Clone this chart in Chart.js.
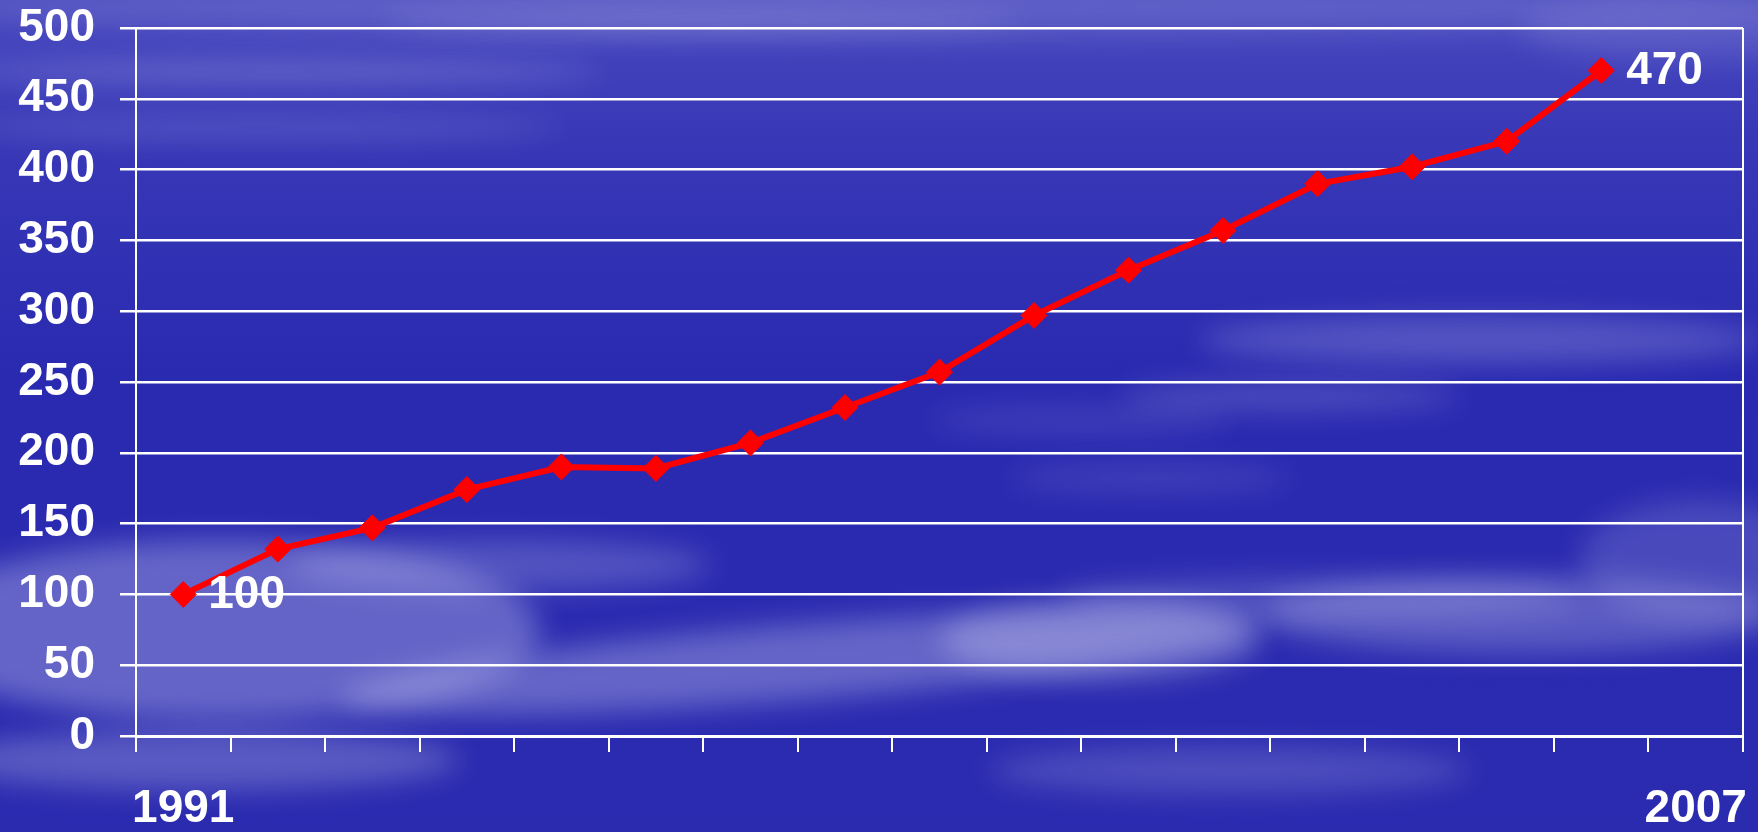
<!DOCTYPE html>
<html>
<head>
<meta charset="utf-8">
<script src="https://cdn.jsdelivr.net/npm/chart.js@4.4.1/dist/chart.umd.min.js"></script>
<style>
  html, body { margin: 0; padding: 0; background: #2b2bb1; }
  #wrap { width: 1758px; height: 832px; position: relative; }
</style>
</head>
<body>
<div id="wrap"><canvas id="c" width="1758" height="832"></canvas></div>
<script>
// Years on the category axis
const years = ['1991','1992','1993','1994','1995','1996','1997','1998','1999',
               '2000','2001','2002','2003','2004','2005','2006','2007'];
// Index values (1991 = 100)
const indexValues = [100, 132, 147, 174, 190, 189, 207, 232, 257,
                     297, 329, 357, 390, 402, 420, 470, null];
// Value axis ticks
const yTickValues = [0, 50, 100, 150, 200, 250, 300, 350, 400, 450, 500];
// Years printed under the axis
const shownYears = ['1991', '2007'];
// Points whose value is written beside them
const labelledPoints = [0, 15];

const FONT = "'Liberation Sans', Arial, sans-serif";

// Soft cloud streaks painted over the blue sky backdrop
const clouds = [
  { x: 880,  y: 8,   rx: 950, ry: 28, a: 0.16, r: 0 },
  { x: 700,  y: 22,  rx: 320, ry: 10, a: 0.22, r: 0 },
  { x: 280,  y: 72,  rx: 320, ry: 12, a: 0.24, r: 0 },
  { x: 260,  y: 128, rx: 300, ry: 11, a: 0.18, r: 0 },
  { x: 1690, y: 30,  rx: 170, ry: 30, a: 0.14, r: 0 },
  { x: 1480, y: 340, rx: 280, ry: 24, a: 0.24, r: 0 },
  { x: 1290, y: 396, rx: 170, ry: 15, a: 0.20, r: 0 },
  { x: 1080, y: 420, rx: 150, ry: 11, a: 0.15, r: 0 },
  { x: 1150, y: 478, rx: 140, ry: 12, a: 0.15, r: 0 },
  { x: 500,  y: 565, rx: 210, ry: 26, a: 0.24, r: 0 },
  { x: 220,  y: 630, rx: 320, ry: 90, a: 0.34, r: 0 },
  { x: 800,  y: 662, rx: 460, ry: 38, a: 0.34, r: -0.08 },
  { x: 1100, y: 640, rx: 160, ry: 40, a: 0.30, r: 0 },
  { x: 1320, y: 598, rx: 260, ry: 20, a: 0.22, r: 0 },
  { x: 1520, y: 615, rx: 260, ry: 38, a: 0.28, r: 0 },
  { x: 200,  y: 760, rx: 260, ry: 30, a: 0.28, r: 0 },
  { x: 1230, y: 770, rx: 240, ry: 24, a: 0.20, r: 0 },
  { x: 1700, y: 560, rx: 120, ry: 60, a: 0.18, r: 0 }
];

const skyPlugin = {
  id: 'sky',
  beforeDraw(chart) {
    const { ctx, width, height } = chart;
    ctx.save();
    const g = ctx.createLinearGradient(0, 0, 0, height);
    g.addColorStop(0, '#4848bf');
    g.addColorStop(0.18, '#3737b7');
    g.addColorStop(0.45, '#2a2ab1');
    g.addColorStop(1, '#2b2bb0');
    ctx.fillStyle = g;
    ctx.fillRect(0, 0, width, height);
    ctx.filter = 'blur(14px)';
    clouds.forEach(c => {
      ctx.beginPath();
      ctx.ellipse(c.x, c.y, c.rx, c.ry, c.r, 0, Math.PI * 2);
      ctx.fillStyle = 'rgba(215,215,245,' + c.a + ')';
      ctx.fill();
    });
    ctx.restore();
  }
};

// Right-hand border of the plot
const framePlugin = {
  id: 'frame',
  beforeDatasetsDraw(chart) {
    const { ctx, chartArea } = chart;
    ctx.save();
    ctx.strokeStyle = '#ffffff';
    ctx.lineWidth = 2;
    ctx.beginPath();
    ctx.moveTo(chartArea.right, chartArea.top);
    ctx.lineTo(chartArea.right, chartArea.bottom);
    ctx.stroke();
    ctx.restore();
  }
};

// Values written next to the first and last points
const valueLabelPlugin = {
  id: 'valueLabels',
  afterDatasetsDraw(chart) {
    const { ctx } = chart;
    const meta = chart.getDatasetMeta(0);
    const data = chart.data.datasets[0].data;
    ctx.save();
    ctx.font = 'bold 46px ' + FONT;
    ctx.fillStyle = '#ffffff';
    ctx.textAlign = 'left';
    ctx.textBaseline = 'middle';
    labelledPoints.forEach(i => {
      const p = meta.data[i];
      ctx.fillText(String(data[i]), p.x + 25, p.y + 1);
    });
    ctx.restore();
  }
};

new Chart(document.getElementById('c'), {
  type: 'line',
  data: {
    labels: years,
    datasets: [{
      data: indexValues,
      borderColor: '#ff0000',
      borderWidth: 6,
      backgroundColor: '#ff0000',
      pointStyle: 'rectRot',
      pointRadius: 13,
      pointBorderWidth: 1,
      pointBackgroundColor: '#ff0000',
      pointBorderColor: '#ff0000',
      tension: 0,
      spanGaps: false
    }]
  },
  options: {
    responsive: false,
    animation: false,
    devicePixelRatio: 1,
    layout: { padding: { top: 28, right: 15, bottom: 0, left: 0 } },
    plugins: { legend: { display: false }, tooltip: { enabled: false } },
    scales: {
      x: {
        type: 'category',
        offset: true,
        grid: {
          display: true,
          offset: true,
          drawOnChartArea: false,
          drawTicks: true,
          tickLength: 16,
          color: '#ffffff',
          lineWidth: 2
        },
        border: { display: true, color: '#ffffff', width: 3 },
        ticks: {
          autoSkip: false,
          maxRotation: 0,
          padding: 30,
          color: '#ffffff',
          font: { family: FONT, size: 46, weight: 'bold' },
          callback: (v, i) => shownYears.includes(years[i]) ? years[i] : ''
        },
        afterFit: s => {
          s.height = 96;
          s.paddingLeft = 0;
          s.paddingRight = 0;
        }
      },
      y: {
        min: 0,
        max: 500,
        afterBuildTicks: s => { s.ticks = yTickValues.map(v => ({ value: v })); },
        grid: {
          color: '#ffffff',
          lineWidth: 2.5,
          tickLength: 16
        },
        border: { display: true, color: '#ffffff', width: 2 },
        ticks: {
          padding: 25,
          color: '#ffffff',
          font: { family: FONT, size: 46, weight: 'bold' }
        },
        afterFit: s => {
          s.width = 136;
          s.paddingTop = 0;
          s.paddingBottom = 0;
        }
      }
    }
  },
  plugins: [skyPlugin, framePlugin, valueLabelPlugin]
});
</script>
</body>
</html>
